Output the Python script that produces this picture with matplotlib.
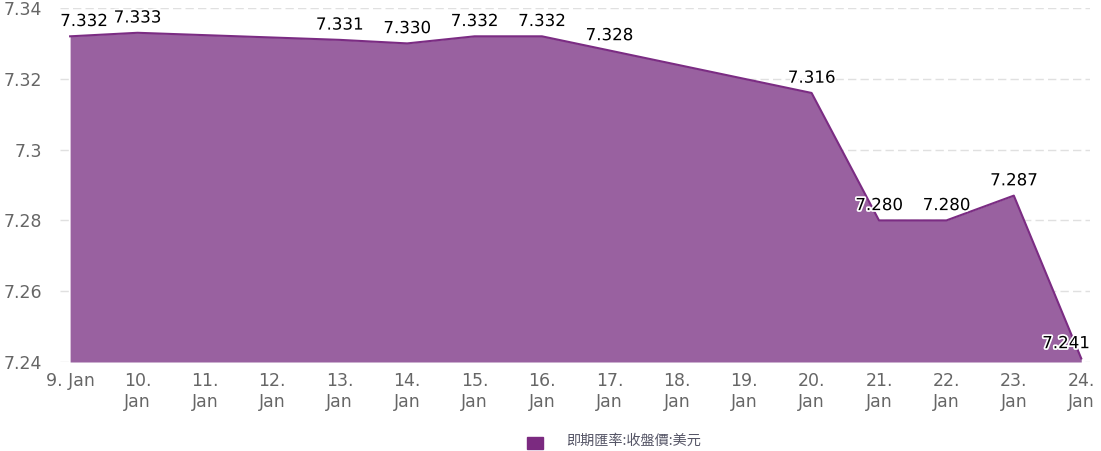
import matplotlib
matplotlib.use("Agg")
import matplotlib.pyplot as plt
import matplotlib.patheffects as pe
from matplotlib.patches import Rectangle

plt.rcParams['font.family'] = ['DejaVu Sans']

days = [9, 10, 11, 12, 13, 14, 15, 16, 17, 18, 19, 20, 21, 22, 23, 24]
tick_labels = ["9. Jan"] + [f"{d}.\nJan" for d in days[1:]]
values = [7.332, 7.333, None, None, 7.331, 7.330, 7.332, 7.332, 7.328,
          None, None, 7.316, 7.280, 7.280, 7.287, 7.241]
series_name = "即期匯率:收盤價:美元"
yticks = [7.24, 7.26, 7.28, 7.30, 7.32, 7.34]
ytick_labels = ["7.24", "7.26", "7.28", "7.3", "7.32", "7.34"]

line_color = "#7b2c83"
fill_color = "#9961a0"

W, H = 1101, 451
fig = plt.figure(figsize=(W / 100, H / 100), dpi=100)
ax = fig.add_axes([60 / W, (H - 362) / H, (1090 - 60) / W, (362 - 8) / H])

xs = [i for i, v in enumerate(values) if v is not None]
ys = [v for v in values if v is not None]

ax.fill_between(xs, ys, 7.24, color=fill_color, linewidth=0, zorder=2)
ax.plot(xs, ys, color=line_color, linewidth=1.5, zorder=3)

last = len(days) - 1
for x, y in zip(xs, ys):
    dx = 0
    if x == 0:
        dx = 10
    elif x == last:
        dx = -11
    ax.annotate(f"{y:.3f}", (x, y), xytext=(dx, 11),
                textcoords="offset points", ha="center", va="center",
                fontsize=12, color="black", zorder=5,
                path_effects=[pe.withStroke(linewidth=2.5, foreground="white")])

ax.set_xlim(-0.15, 15.13)
ax.set_ylim(7.24, 7.34)
ax.set_yticks(yticks)
ax.set_yticklabels(ytick_labels)
ax.set_xticks(range(len(days)))
ax.set_xticklabels(tick_labels)
ax.tick_params(axis="both", length=0, colors="#666666", labelsize=12.5)
ax.tick_params(axis="y", pad=13)
ax.tick_params(axis="x", pad=7)
ax.yaxis.grid(True, color="#e0e0e0", linestyle=(0, (6, 3)), linewidth=1, zorder=0)
ax.set_axisbelow(True)
for s in ax.spines.values():
    s.set_visible(False)

# legend
fig.patches.append(Rectangle((527 / W, (H - 449) / H), 16 / W, 12 / H,
                             transform=fig.transFigure, color="#7b2a80", figure=fig))
fig.text(566 / W, (H - 441) / H, series_name, ha="left", va="center",
         fontsize=10.2, color="#555566",
         family=["Noto Sans CJK TC", "DejaVu Sans"])

fig.savefig("out.png", dpi=100)
